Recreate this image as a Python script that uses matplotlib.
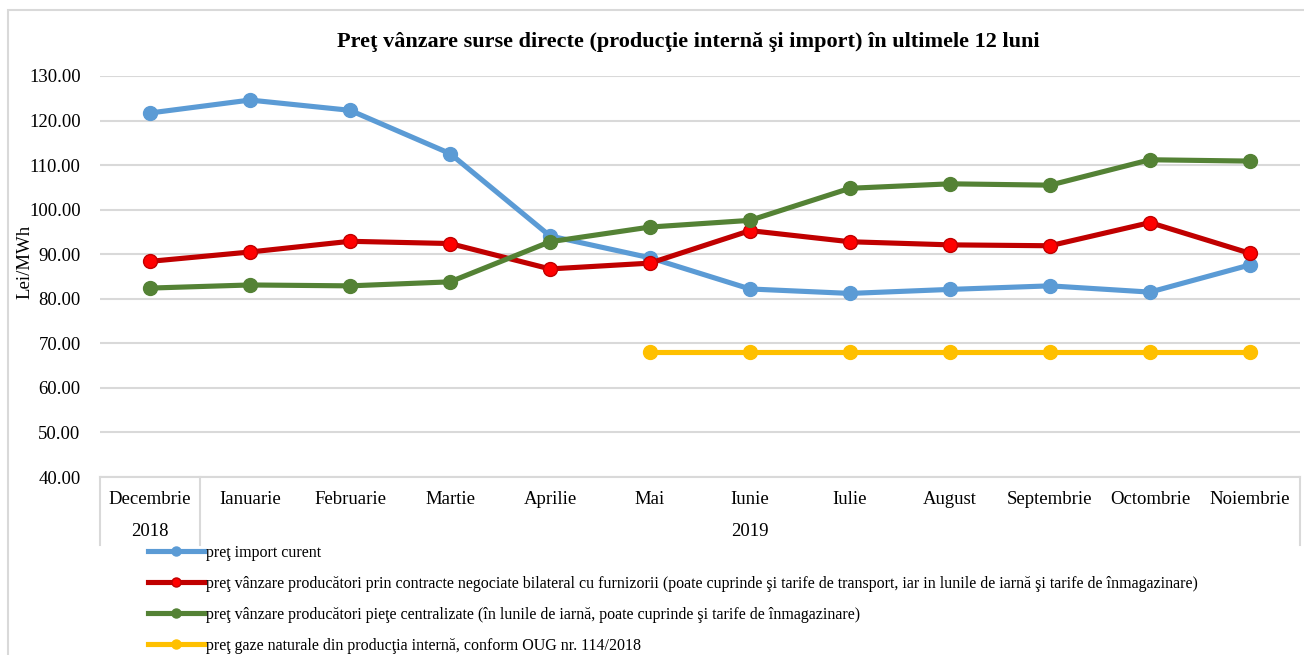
import numpy as np
import matplotlib
matplotlib.use("Agg")
import matplotlib.pyplot as plt
from matplotlib.lines import Line2D
from matplotlib.patches import Rectangle
import matplotlib.transforms as mtransforms

plt.rcParams['font.family'] = ['Liberation Serif', 'DejaVu Serif']

months = ["Decembrie", "Ianuarie", "Februarie", "Martie", "Aprilie", "Mai",
          "Iunie", "Iulie", "August", "Septembrie", "Octombrie", "Noiembrie"]
years = ["2018", "2019"]
year_spans = [(0, 0), (1, 11)]

import_curent = [121.7, 124.6, 122.3, 112.6, 94.1, 89.2, 82.2, 81.2, 82.1, 82.9, 81.5, 87.6]
contracte_bilaterale = [88.4, 90.5, 92.9, 92.4, 86.7, 88.0, 95.3, 92.8, 92.1, 91.9, 97.1, 90.2]
piete_centralizate = [82.4, 83.1, 82.9, 83.8, 92.8, 96.1, 97.6, 104.8, 105.8, 105.5, 111.2, 110.9]
productie_interna = [np.nan, np.nan, np.nan, np.nan, np.nan, 68.0, 68.0, 68.0, 68.0, 68.0, 68.0, 68.0]

labels = [
    "preţ import curent",
    "preţ vânzare producători prin contracte negociate bilateral cu furnizorii (poate cuprinde şi tarife de transport, iar in lunile de iarnă şi tarife de înmagazinare)",
    "preţ vânzare producători pieţe centralizate (în lunile de iarnă, poate cuprinde şi tarife de înmagazinare)",
    "preţ gaze naturale din producţia internă, conform OUG nr. 114/2018",
]
series = [import_curent, contracte_bilaterale, piete_centralizate, productie_interna]
line_colors = ["#5B9BD5", "#C00000", "#548235", "#FFC000"]
face_colors = ["#5B9BD5", "#FF0000", "#548235", "#FFC000"]

fig = plt.figure(figsize=(13.04, 6.55), dpi=100)
fig.patches.append(Rectangle((8 / 1304, -0.1), 1.2, 1 - 10 / 655 + 0.1, transform=fig.transFigure,
                             fill=False, edgecolor="#D9D9D9", linewidth=1.5))

ax = fig.add_axes([100 / 1304, (655 - 477) / 655, 1200 / 1304, 401 / 655])
x = np.arange(len(months))
handles = []
for vals, lc, fc, lab in zip(series, line_colors, face_colors, labels):
    ax.plot(x, vals, color=lc, linewidth=3.7, marker="o", markersize=10,
            markerfacecolor=fc, markeredgecolor=lc, markeredgewidth=1)
    # smaller markers in the legend, like the original
    handles.append(Line2D([], [], color=lc, linewidth=3.7, marker="o", markersize=6.5,
                          markerfacecolor=fc, markeredgecolor=lc, label=lab))

ax.set_xlim(-0.5, 11.5)
ax.set_ylim(40, 130)
ax.set_yticks(np.arange(40, 131, 10))
ax.set_yticklabels([f"{v:.2f}" for v in np.arange(40, 131, 10)], fontsize=13.5)
ax.yaxis.grid(True, color="#D9D9D9", linewidth=1.5)
ax.set_axisbelow(True)
for s in ["top", "right", "left"]:
    ax.spines[s].set_visible(False)
ax.spines["bottom"].set_color("#D9D9D9")
ax.spines["bottom"].set_linewidth(1.5)
ax.tick_params(axis="y", length=0, pad=14)
ax.set_xticks(x)
ax.set_xticklabels([])
ax.tick_params(axis="x", length=0)

fig.text(25 / 1304, 1 - 262 / 655, "Lei/MWh", rotation=90, ha="center", va="center", fontsize=13.5)

# two-level category axis
trans = mtransforms.blended_transform_factory(ax.transData, ax.transAxes)
for i, m in enumerate(months):
    ax.text(i, -0.055, m, transform=trans, ha="center", va="center", fontsize=13.5)
for yr, (a, b) in zip(years, year_spans):
    ax.text((a + b) / 2, -0.137, yr, transform=trans, ha="center", va="center", fontsize=13.5)
for sep in [-0.5, 0.5, 11.5]:
    ax.add_line(Line2D([sep, sep], [0, -0.17], transform=trans, color="#D9D9D9",
                       linewidth=1.5, clip_on=False))

fig.text(688 / 1304, 1 - 42 / 655, "Preţ vânzare surse directe (producţie internă şi import) în ultimele 12 luni",
         ha="center", va="center", fontsize=16, fontweight="bold")

fig.legend(handles=handles, loc="upper left", bbox_to_anchor=(148 / 1304, 1 - 545 / 655),
           frameon=False, fontsize=11.5, handlelength=3.5, handletextpad=0.15,
           labelspacing=0.93, borderaxespad=0, borderpad=0)

fig.savefig("out.png", dpi=100)
